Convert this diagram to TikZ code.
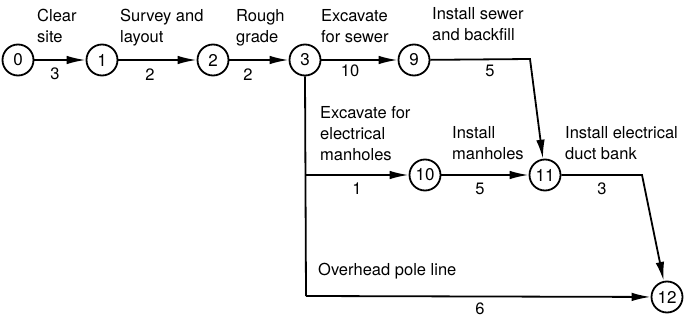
\documentclass[tikz,border=0pt]{standalone}
\usepackage{fontspec}
\setmainfont{TeX Gyre Heros}
\usetikzlibrary{arrows.meta}
\begin{document}
\begin{tikzpicture}[x=1pt,y=-1pt,
  ev/.style={circle,draw,line width=1.8pt,minimum size=31pt,inner sep=0pt,font=\fontsize{17}{20}\selectfont},
  act/.style={line width=1.8pt,-{Latex[length=19pt,width=8.5pt]}},
  ln/.style={line width=1.8pt},
  lbl/.style={anchor=north west,align=left,inner sep=0pt,font=\fontsize{16.5}{21}\selectfont},
  dur/.style={anchor=base,inner sep=0pt,font=\fontsize{16.5}{20}\selectfont}]
\useasboundingbox (0,0) rectangle (684,320);
\node[ev] (n0) at (18,60) {0};
\node[ev] (n1) at (102,60) {1};
\node[ev] (n2) at (213,60) {2};
\node[ev] (n3) at (305,60) {3};
\node[ev] (n9) at (414,60) {9};
\node[ev] (n10) at (425,175) {10};
\node[ev] (n11) at (545,175) {11};
\node[ev] (n12) at (667,297) {12};
\coordinate (c9) at (530,59);
\coordinate (c11) at (642,175);
\coordinate (cb) at (306,175);
\coordinate (cc) at (306,296);
\draw[act] (n0) -- (n1);
\draw[act] (n1) -- (n2);
\draw[act] (n2) -- (n3);
\draw[act] (n3) -- (n9);
\draw[act] (n9) -- (c9) -- (n11);
\draw[act] (n10) -- (n11);
\draw[act] (n11) -- (c11) -- (n12);
\draw[ln] (n3.south) -- (cc);
\draw[act] (cb) -- (n10);
\draw[act] (cc) -- (n12);
% labels
\node[lbl] (l01) at (37,9) {Clear\\site};
\node[dur] (d01) at (55,80) {3};
\node[lbl] (l12) at (120,9) {Survey and\\layout};
\node[dur] (d12) at (150,81) {2};
\node[lbl] (l23) at (236,9) {Rough\\grade};
\node[dur] (d23) at (248,81) {2};
\node[lbl] (l39) at (321,9) {Excavate\\for sewer};
\node[dur] (d39) at (350,77) {10};
\node[lbl] (l911) at (432,7) {Install sewer\\and backfill};
\node[dur] (d911) at (490,77) {5};
\node[lbl] (l310) at (320,106) {Excavate for\\electrical\\manholes};
\node[dur] (d310) at (357,195) {1};
\node[lbl] (l1011) at (452,126) {Install\\manholes};
\node[dur] (d1011) at (480,195) {5};
\node[lbl] (l1112) at (565,126) {Install electrical\\duct bank};
\node[dur] (d1112) at (602,195) {3};
\node[lbl] (l312) at (318,263) {Overhead pole line};
\node[dur] (d312) at (480,314) {6};
\end{tikzpicture}
\end{document}
